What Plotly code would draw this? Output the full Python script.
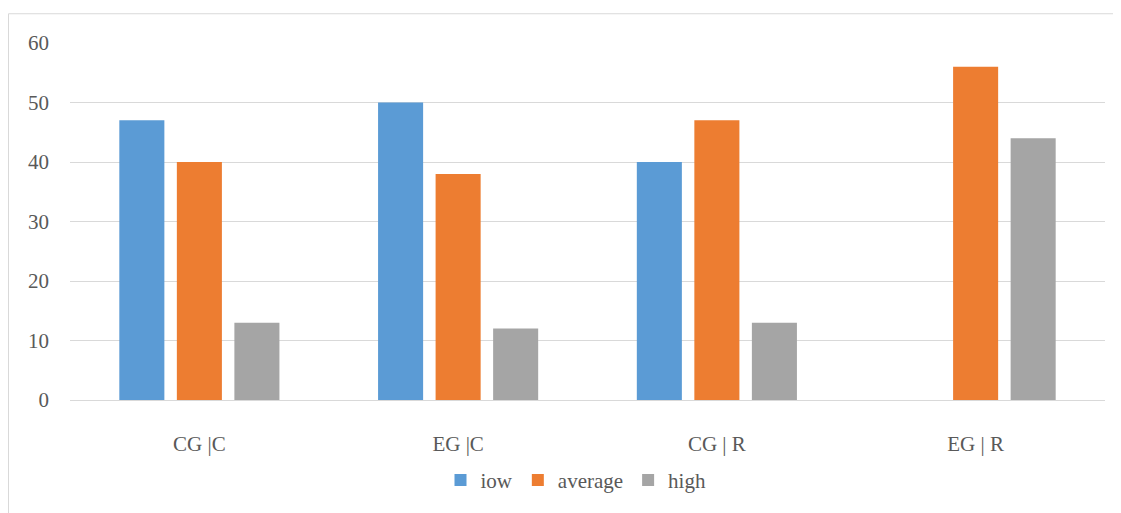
import plotly.graph_objects as go

categories = ["CG |C", "EG |C", "CG | R", "EG | R"]
series_names = ["iow", "average", "high"]
low_values = [47, 50, 40, 0]
average_values = [40, 38, 47, 56]
high_values = [13, 12, 13, 44]
colors = ["#5B9BD5", "#ED7D31", "#A5A5A5"]
y_ticks = [0, 10, 20, 30, 40, 50, 60]

OFF = 8  # page body margin
W, H = 1121 - OFF, 513 - OFF
L, R, T, B = 70 - OFF, 16, 43 - OFF, 110

fig = go.Figure()
for name, vals, col in zip(series_names, [low_values, average_values, high_values], colors):
    fig.add_trace(go.Bar(x=categories, y=vals, name=name, marker=dict(color=col, line=dict(width=0))))

font = dict(family="Liberation Serif", size=21, color="#595959")

pw = W - L - R
ph = H - T - B
fig.update_layout(
    width=W, height=H,
    margin=dict(l=L, r=R, t=T, b=B),
    paper_bgcolor="white", plot_bgcolor="white",
    font=font,
    barmode="group",
    bargap=0.333,
    bargroupgap=0.217,
    showlegend=True,
    legend=dict(orientation="h", x=(576 - OFF - L) / pw, xanchor="center",
                y=-(484 - OFF - (T + ph)) / ph, yanchor="middle",
                font=font, traceorder="normal"),
    xaxis=dict(showgrid=False, showline=False, ticks="", tickfont=font,
               zeroline=False, ticklabelstandoff=29),
    yaxis=dict(range=[0, 60], tickvals=y_ticks, showgrid=True, gridcolor="#D9D9D9",
               gridwidth=1, zeroline=True, zerolinecolor="#D9D9D9", zerolinewidth=1,
               showline=False, ticks="", tickfont=font, ticklabelstandoff=20),
    shapes=[dict(type="rect", xref="paper", yref="paper",
                 x0=(0.5 - L) / pw, x1=(W + 5 - L) / pw,
                 y0=-(H + 5 - T - ph) / ph, y1=1 + (T - 5.5) / ph,
                 line=dict(color="#D9D9D9", width=1), fillcolor="rgba(0,0,0,0)", layer="below")],
)

fig.write_html("out.html")
